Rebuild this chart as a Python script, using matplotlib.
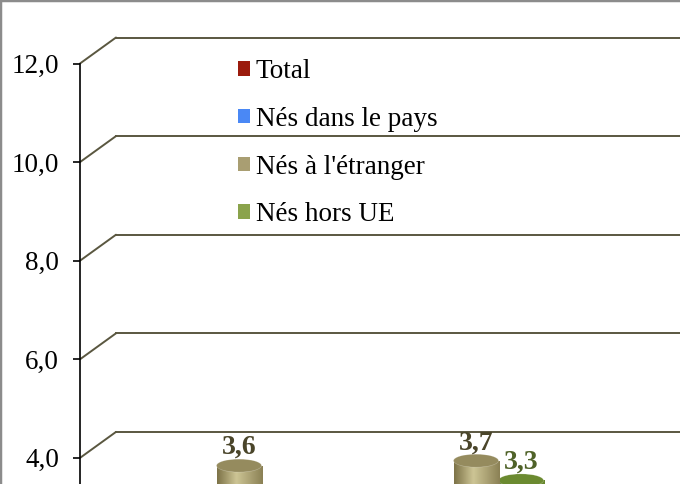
import numpy as np
import matplotlib
matplotlib.use('Agg')
import matplotlib.pyplot as plt
from matplotlib.patches import Patch, Ellipse
from matplotlib.transforms import offset_copy
from matplotlib.colors import LinearSegmentedColormap

plt.rcParams['font.family'] = ['Liberation Serif', 'DejaVu Serif']

# data (only the top of the chart is visible in the reference, hidden values are estimates)
categories = ['A', 'B', 'C']
series = ['Total', 'Nés dans le pays', "Nés à l'étranger", 'Nés hors UE']
total = [2.0, 2.1, 2.0]
nes_pays = [1.7, 1.8, 1.8]
nes_etranger = [3.6, 3.7, 3.5]
nes_hors_ue = [2.2, 3.3, 3.1]
yticks = [0, 2, 4, 6, 8, 10, 12]

values = [total, nes_pays, nes_etranger, nes_hors_ue]
flat_cols = ['#9b1b0d', '#4a88f5', '#a99e72', '#8aa34c']
grad_cols = [['#6e1006', '#c23a28', '#80160a'],
             ['#2f64c4', '#7fb0ff', '#3a72d8'],
             ['#7d7348', '#cdc595', '#8b8155'],
             ['#5a7826', '#9cba5c', '#66862d']]
top_cols = ['#8a1709', '#3f7be6', '#958b5e', '#6b8a30']
lab_cols = ['#6e1006', '#244a8a', '#4a452a', '#4f6228']

W, H = 680, 484
top_px = 63.5        # pixel row of the 12,0 tick
unit_px = 49.3       # pixels per unit on the front axis
group_px = 237       # pixels per category

fig = plt.figure(figsize=(W / 100, H / 100), dpi=100)
fig.patch.set_facecolor('white')
zero_px = top_px + 12 * unit_px
ax = fig.add_axes([80 / W, (H - zero_px) / H, 3 * group_px / W, 12 * unit_px / H])
ax.patch.set_visible(False)

back = offset_copy(ax.transData, fig=fig, x=36, y=26, units='dots')
mid = offset_copy(ax.transData, fig=fig, x=18, y=12, units='dots')

# 3d walls: diagonal on the side wall + horizontal line on the back wall
grid_col = '#5a5740'
for v in yticks:
    ax.plot([-0.5, 2.6], [v, v], transform=back, color=grid_col, lw=1.4, zorder=1, clip_on=False)
    ax.annotate('', xy=(-0.5, v), xytext=(36, 26), textcoords='offset pixels',
                arrowprops=dict(arrowstyle='-', color=grid_col, lw=1.4, shrinkA=0, shrinkB=0),
                annotation_clip=False, zorder=1)

width = 0.19
x = np.arange(len(categories))
ell_h = 13 / unit_px
grad = np.linspace(0, 1, 64).reshape(1, -1)

for i, vals in enumerate(values):
    off = (i - 1.5) * width
    cm = LinearSegmentedColormap.from_list('c%d' % i, list(zip([0, 0.42, 1], grad_cols[i])))
    bars = ax.bar(x + off, vals, width, color=flat_cols[i], transform=mid, zorder=10 - i)
    for rect, v, xc in zip(bars, vals, x + off):
        im = ax.imshow(grad, cmap=cm, extent=[xc - width / 2, xc + width / 2, 0, v],
                       transform=mid, aspect='auto', zorder=10 - i + 0.1, interpolation='bicubic')
        im.set_clip_path(rect)
        ax.add_patch(Ellipse((xc, v), width, ell_h, transform=mid, facecolor=top_cols[i],
                             edgecolor='#ffffff55', lw=0.4, zorder=10 - i + 0.3))
        ax.annotate(f'{v:.1f}'.replace('.', ','), xy=(xc, v), xycoords=mid, xytext=(0, 18),
                    textcoords='offset pixels', ha='center', va='center', fontsize=20,
                    fontweight='bold', color=lab_cols[i], zorder=20, annotation_clip=False)

ax.set_xlim(-0.5, 2.5)
ax.set_ylim(0, 12)
ax.set_xticks([])
ax.set_yticks(yticks)
ax.set_yticklabels([f'{t:.1f}'.replace('.', ',') for t in yticks])
ax.tick_params(axis='y', length=5, width=1.2, pad=10, labelsize=19.5, colors='black')
for s in ['top', 'right', 'bottom']:
    ax.spines[s].set_visible(False)
ax.spines['left'].set_linewidth(1.2)
ax.spines['left'].set_color('black')

handles = [Patch(facecolor=c, edgecolor='none') for c in flat_cols]
fig.legend(handles, series, loc='upper left', bbox_to_anchor=(238 / W, 1 - 59 / H),
           frameon=False, fontsize=19.5, handlelength=0.45, handleheight=0.45,
           handletextpad=0.2, labelspacing=0.84, borderpad=0, borderaxespad=0)

# chart area border (only top and left edges are in view)
fig.add_artist(plt.Line2D([0, 1], [1, 1], transform=fig.transFigure, color='#8c8c8c', lw=2.5))
fig.add_artist(plt.Line2D([0, 0], [0, 1], transform=fig.transFigure, color='#8c8c8c', lw=2.5))

fig.savefig('out.png', dpi=100)
